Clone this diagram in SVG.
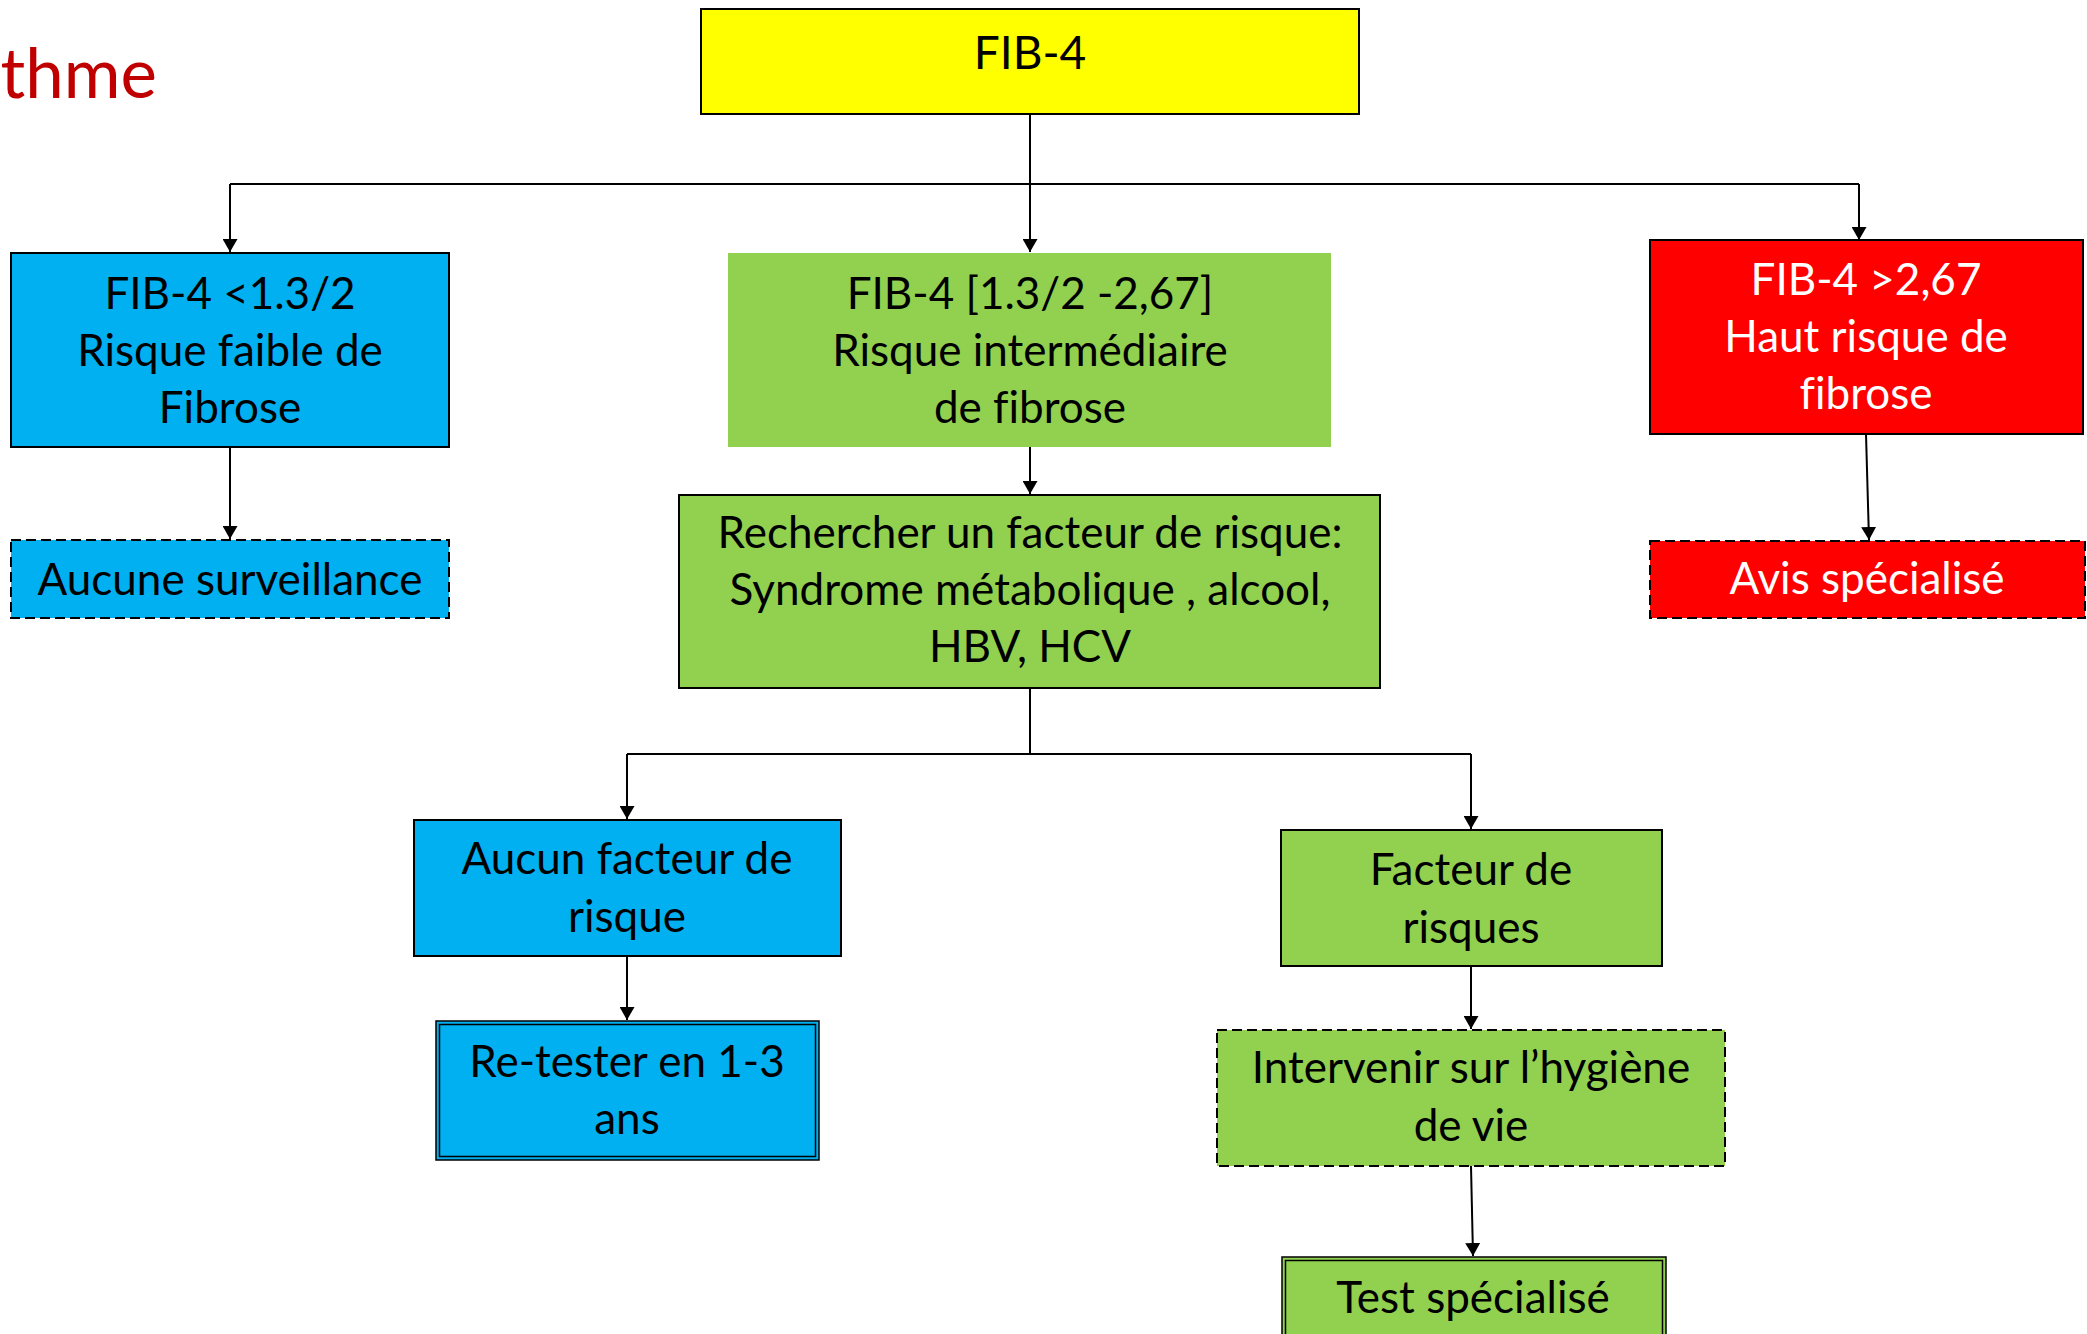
<svg xmlns="http://www.w3.org/2000/svg" width="2087" height="1334" viewBox="0 0 2087 1334">
<style>
text{font-family:Lato,"Liberation Sans",sans-serif;text-anchor:middle;font-size:44px;fill:#000;font-variant-ligatures:none}
.w{fill:#fff}
.b{stroke:#000;stroke-width:2}
.d{stroke:#000;stroke-width:2;stroke-dasharray:10 5}
.thin{stroke:#000;stroke-width:1.5}
.blue{fill:#00B0F0}
.green{fill:#92D050}
.red{fill:#FF0000}
.c{fill:none;stroke:#000;stroke-width:2;marker-end:url(#ah)}
.cl{fill:none;stroke:#000;stroke-width:2}
</style>
<defs>
<marker id="ah" markerUnits="userSpaceOnUse" viewBox="0 0 13 15" markerWidth="13" markerHeight="15" refX="13" refY="7.5" orient="auto">
<path d="M0,0 L13,7.5 L0,15 Z" fill="#000"/>
</marker>
</defs>
<rect width="2087" height="1334" fill="#fff"/>
<text x="157" y="98" style="text-anchor:end;font-size:69px;fill:#C00000">thme</text>

<g id="connectors">
<path class="c" d="M1030,114 V252"/>
<path class="cl" d="M230,184 H1859"/>
<path class="c" d="M230,184 V252"/>
<path class="c" d="M1859,184 V240"/>
<path class="c" d="M230,447 V539"/>
<path class="c" d="M1866,434 L1869,540"/>
<path class="c" d="M1030,447 V494"/>
<path class="cl" d="M1030,688 V754 M627,754 H1471"/>
<path class="c" d="M627,754 V819"/>
<path class="c" d="M1471,754 V829"/>
<path class="c" d="M627,956 V1020"/>
<path class="c" d="M1471,966 V1029"/>
<path class="c" d="M1471,1166 L1473,1256"/>
</g>

<g id="n-fib4">
<rect x="701" y="9" width="658" height="105" fill="#FFFF00" class="b"/>
<text x="1030" y="69" style="font-size:46px">FIB-4</text>
</g>

<g id="n-low">
<rect x="11" y="253" width="438" height="194" class="blue b"/>
<text x="230" y="309">FIB-4 &lt;1.3/2</text>
<text x="230" y="366">Risque faible de</text>
<text x="230" y="423">Fibrose</text>
</g>

<g id="n-mid">
<rect x="728" y="253" width="603" height="194" class="green"/>
<text x="1030" y="309">FIB-4 [1.3/2 -2,67]</text>
<text x="1030" y="366">Risque intermédiaire</text>
<text x="1030" y="423">de fibrose</text>
</g>

<g id="n-high">
<rect x="1650" y="240" width="433" height="194" class="red b"/>
<text class="w" x="1866" y="295">FIB-4 &gt;2,67</text>
<text class="w" x="1866" y="352">Haut risque de</text>
<text class="w" x="1866" y="409">fibrose</text>
</g>

<g id="n-aucune">
<rect x="11" y="540" width="438" height="78" class="blue d"/>
<text x="230" y="595">Aucune surveillance</text>
</g>

<g id="n-avis">
<rect x="1650" y="541" width="435" height="77" class="red d"/>
<text class="w" x="1867" y="594">Avis spécialisé</text>
</g>

<g id="n-recherche">
<rect x="679" y="495" width="701" height="193" class="green b"/>
<text x="1030" y="548">Rechercher un facteur de risque:</text>
<text x="1030" y="605">Syndrome métabolique , alcool,</text>
<text x="1030" y="662">HBV, HCV</text>
</g>

<g id="n-aucun-facteur">
<rect x="414" y="820" width="427" height="136" class="blue b"/>
<text x="627" y="874">Aucun facteur de</text>
<text x="627" y="932">risque</text>
</g>

<g id="n-retester">
<rect x="436" y="1021" width="383" height="139" class="blue thin"/>
<rect x="439.5" y="1024.5" width="376" height="132" fill="none" class="thin"/>
<text x="627" y="1077">Re-tester en 1-3</text>
<text x="627" y="1134">ans</text>
</g>

<g id="n-facteur">
<rect x="1281" y="830" width="381" height="136" class="green b"/>
<text x="1471" y="885">Facteur de</text>
<text x="1471" y="943">risques</text>
</g>

<g id="n-intervenir">
<rect x="1217" y="1030" width="508" height="136" class="green d"/>
<text x="1471" y="1083">Intervenir sur l’hygiène</text>
<text x="1471" y="1141">de vie</text>
</g>

<g id="n-test">
<rect x="1282" y="1257" width="384" height="100" class="green thin"/>
<rect x="1285.5" y="1260.5" width="377" height="93" fill="none" class="thin"/>
<text x="1473" y="1313">Test spécialisé</text>
</g>
</svg>
